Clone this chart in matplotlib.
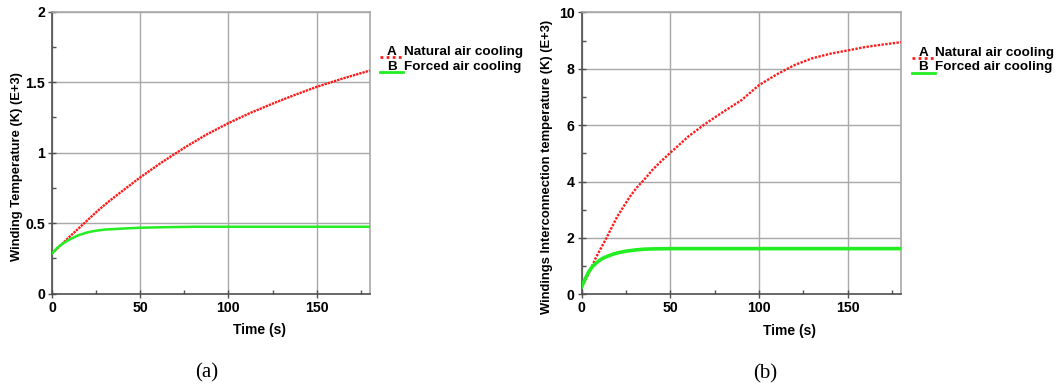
import matplotlib.pyplot as plt
from matplotlib.lines import Line2D
from matplotlib.ticker import MultipleLocator, FuncFormatter

# (a) winding temperature, E+3 K
t_a = [0, 5, 10, 15, 20, 25, 30, 35, 40, 50, 62, 75, 87, 100, 112, 125, 137, 150, 165, 180]
nat_a = [0.286, 0.345, 0.405, 0.462, 0.52, 0.578, 0.632, 0.682, 0.73, 0.825, 0.93, 1.035, 1.125, 1.21, 1.28, 1.348, 1.407, 1.467, 1.527, 1.582]
t_fa = [0, 3, 6, 10, 15, 20, 25, 30, 40, 50, 65, 80, 100, 140, 180]
frc_a = [0.286, 0.325, 0.355, 0.385, 0.415, 0.435, 0.447, 0.455, 0.462, 0.468, 0.472, 0.475, 0.475, 0.475, 0.475]

# (b) windings interconnection temperature, E+3 K
t_b = [0, 2, 4, 6, 8, 11, 14, 17, 20, 24, 27, 31, 36, 40, 45, 50, 60, 70, 80, 90, 100, 110, 120, 130, 140, 150, 160, 170, 180]
nat_b = [0.27, 0.5, 0.75, 1.02, 1.3, 1.65, 2.0, 2.38, 2.75, 3.15, 3.45, 3.78, 4.12, 4.42, 4.73, 5.02, 5.59, 6.06, 6.48, 6.88, 7.42, 7.8, 8.13, 8.37, 8.53, 8.65, 8.77, 8.86, 8.94]
t_fb = [0, 2, 4, 6, 8, 10, 12, 15, 18, 21, 25, 30, 35, 40, 50, 70, 100, 140, 180]
frc_b = [0.27, 0.55, 0.8, 0.98, 1.1, 1.2, 1.28, 1.36, 1.43, 1.48, 1.53, 1.57, 1.6, 1.61, 1.62, 1.62, 1.62, 1.62, 1.62]

labels = ['Natural air cooling', 'Forced air cooling']
letters = ['A', 'B']
ylabels = ['Winding Temperature (K) (E+3)', 'Windings Interconnection temperature (K) (E+3)']
captions = ['(a)', '(b)']

RED = '#ff1a1a'
GREEN = '#22ee22'
GRID = '#a8a8a8'
AXC = '#505050'

plt.rcParams['font.family'] = ['Liberation Sans', 'DejaVu Sans']
plt.rcParams['font.weight'] = 'bold'

fig = plt.figure(figsize=(10.57, 3.91), dpi=100)
ax_a = fig.add_axes([0.0492, 0.2488, 0.3004, 0.7212])
ax_b = fig.add_axes([0.5503, 0.2473, 0.3021, 0.7212])


def fmt(v, pos):
    return ('%g' % v)


def style(ax, ymax, ymaj, ymin):
    ax.set_xlim(0, 180)
    ax.set_ylim(0, ymax)
    ax.xaxis.set_major_locator(MultipleLocator(50))
    ax.xaxis.set_minor_locator(MultipleLocator(25))
    ax.yaxis.set_major_locator(MultipleLocator(ymaj))
    ax.yaxis.set_minor_locator(MultipleLocator(ymin))
    ax.yaxis.set_major_formatter(FuncFormatter(fmt))
    ax.grid(True, which='major', color=GRID, linewidth=1.0)
    ax.tick_params(which='major', direction='inout', length=6, width=1, color=AXC,
                   labelsize=10.2, pad=2)
    ax.tick_params(which='minor', direction='in', length=3, width=1, color=AXC)
    for lab in ax.get_xticklabels() + ax.get_yticklabels():
        lab.set_fontweight('bold')
    for s in ['left', 'bottom']:
        ax.spines[s].set_color(AXC)
        ax.spines[s].set_linewidth(1.2)
    for s in ['right', 'top']:
        ax.spines[s].set_color(GRID)
        ax.spines[s].set_linewidth(1.2)


panels = [
    (ax_a, t_a, nat_a, t_fa, frc_a, 2, 0.5, 0.25, 1.8, (0, (1, 0.4))),
    (ax_b, t_b, nat_b, t_fb, frc_b, 10, 2, 1, 2.6, (0, (1, 0.6))),
]
for i, (ax, tn, yn, tf, yf, ymax, ymaj, ymin, glw, rls) in enumerate(panels):
    ax.plot(tn, yn, color=RED, linestyle=rls, linewidth=1.7, zorder=3)
    ax.plot(tf, yf, color=GREEN, linewidth=glw, zorder=4)
    style(ax, ymax, ymaj, ymin)
    ax.text(0.652, -0.129, 'Time (s)', transform=ax.transAxes, ha='center', va='center',
            fontsize=10, fontweight='bold')
    ax.text(-0.11, 0.45, ylabels[i], transform=ax.transAxes, ha='center', va='center',
            rotation=90, fontsize=9.4, fontweight='bold')
    # legend drawn by hand: sample line with the letter over its end
    rows = [(0.839, 0.857, RED, (0, (1, 1.2)), 2.0), (0.786, 0.805, GREEN, '-', 2.0)]
    for j, (ly, ty, c, ls, lw) in enumerate(rows):
        ax.add_line(Line2D([1.033, 1.106], [ly, ly], transform=ax.transAxes, color=c,
                           linestyle=ls, linewidth=lw, clip_on=False))
        ax.text(1.07, ty, letters[j], transform=ax.transAxes, ha='center', va='center',
                fontsize=9.7, fontweight='bold')
        ax.text(1.108, ty, labels[j], transform=ax.transAxes, ha='left', va='center',
                fontsize=9.7, fontweight='bold')
    ax.text(0.488 if i == 0 else 0.575, -0.282, captions[i], transform=ax.transAxes,
            ha='center', va='center', fontsize=15, family='Liberation Serif',
            fontweight='normal')

fig.savefig('out.png', dpi=100)
